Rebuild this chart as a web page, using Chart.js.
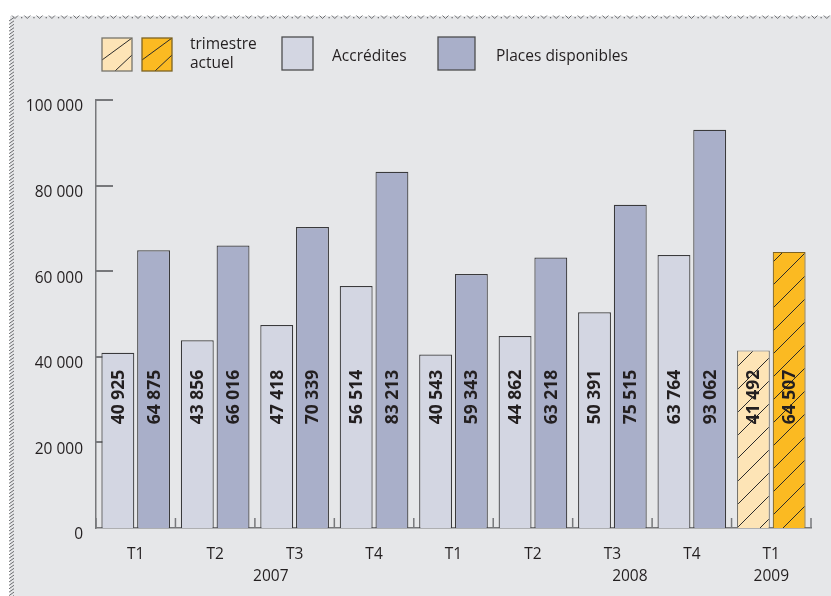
<!DOCTYPE html>
<html>
<head>
<meta charset="utf-8">
<script src="https://cdn.jsdelivr.net/npm/chart.js@4.4.0/dist/chart.umd.min.js"></script>
<style>
html,body{margin:0;padding:0;background:#fff;}
canvas{display:block;}
</style>
</head>
<body>
<canvas id="c" width="831" height="596"></canvas>
<script>
// ---- data ----
const quarters = ['T1','T2','T3','T4','T1','T2','T3','T4','T1'];
const years = ['2007','2008','2009'];
const yearAt = [1.7, 6.22, 8];          // category position (index) under which each year is written
const accredites = [40925, 43856, 47418, 56514, 40543, 44862, 50391, 63764, 41492];
const places     = [64875, 66016, 70339, 83213, 59343, 63218, 75515, 93062, 64507];
const yMax = 100000, yStep = 20000;
const labelValue = 30600;                // vertical level (in data units) where value labels are centred

// ---- style ----
const FONT = "'Open Sans', 'Noto Sans', sans-serif";
const BG = '#e6e7e9';
const C_ACC = '#d3d6e2', C_PL = '#a9afc9';
const C_CUR1 = '#fde4b6', C_CUR2 = '#fbba22';
const TXT = '#231f20';
const AXIS = '#77787b';

function fmt(v){ return String(v).replace(/\B(?=(\d{3})+(?!\d))/g, ' '); }

const canvas = document.getElementById('c');
const mainCtx = canvas.getContext('2d');

function makePattern(bg){
  const s = 23;
  const t = document.createElement('canvas');
  t.width = s; t.height = s;
  const g = t.getContext('2d');
  g.fillStyle = bg; g.fillRect(0,0,s,s);
  g.strokeStyle = '#2b2b2b'; g.lineWidth = 1;
  g.beginPath();
  g.moveTo(0,s); g.lineTo(s,0);
  g.moveTo(-2,2); g.lineTo(2,-2);
  g.moveTo(s-2,s+2); g.lineTo(s+2,s-2);
  g.stroke();
  return mainCtx.createPattern(t,'repeat');
}
const patLight = makePattern(C_CUR1);
const patOrange = makePattern(C_CUR2);

const n = quarters.length;
const accBg = accredites.map((v,i)=> i===n-1 ? patLight : C_ACC);
const plBg = places.map((v,i)=> i===n-1 ? patOrange : C_PL);
const accBd = accredites.map((v,i)=> i===n-1 ? '#77746c' : '#3a3a3c');
const plBd = places.map((v,i)=> i===n-1 ? '#7d6322' : '#3a3a3c');

function hatchBox(ctx, x, y, w, h, fill, stroke){
  ctx.save();
  ctx.fillStyle = fill; ctx.fillRect(x,y,w,h);
  ctx.beginPath(); ctx.rect(x,y,w,h); ctx.clip();
  ctx.strokeStyle = '#2b2b2b'; ctx.lineWidth = 1;
  ctx.beginPath();
  ctx.moveTo(x, y+22); ctx.lineTo(x+w, y);
  ctx.moveTo(x+13, y+h); ctx.lineTo(x+w, y+h-16);
  ctx.stroke();
  ctx.restore();
  ctx.strokeStyle = stroke; ctx.lineWidth = 1.3;
  ctx.strokeRect(x,y,w,h);
}
function plainBox(ctx, x, y, w, h, fill){
  ctx.fillStyle = fill; ctx.fillRect(x,y,w,h);
  ctx.strokeStyle = '#4d4d4f'; ctx.lineWidth = 1.3;
  ctx.strokeRect(x,y,w,h);
}

const decor = {
  id: 'decor',
  beforeDraw(chart){
    const ctx = chart.ctx;
    const W = chart.width, H = chart.height;
    ctx.save();
    ctx.fillStyle = '#fff'; ctx.fillRect(0,0,W,H);
    ctx.fillStyle = BG; ctx.fillRect(10,16,W-10,H-16);
    // top zigzag frame
    ctx.strokeStyle = '#6d6e71'; ctx.lineWidth = 1;
    ctx.beginPath();
    for(let x=12; x<W; x+=12.3){
      ctx.moveTo(x,15.5); ctx.lineTo(x+3,18.5); ctx.lineTo(x+6,15.5);
    }
    ctx.stroke();
    ctx.fillStyle = '#6d6e71';
    for(let x=21; x<W; x+=12.3){ ctx.fillRect(x,17,1.3,1.3); }
    // left hatched frame
    ctx.beginPath();
    for(let y=18; y<H; y+=3.4){
      ctx.moveTo(9, y+3); ctx.lineTo(14, y-0.5);
    }
    ctx.stroke();
    // legend
    hatchBox(ctx, 102, 38, 30, 33, C_CUR1, '#77746c');
    hatchBox(ctx, 142, 38, 30, 33, C_CUR2, '#7d6322');
    plainBox(ctx, 282, 37, 31, 33, C_ACC);
    plainBox(ctx, 438, 37, 37, 33, C_PL);
    ctx.fillStyle = TXT;
    ctx.font = '15.5px ' + FONT;
    ctx.textBaseline = 'middle'; ctx.textAlign = 'left';
    ctx.fillText('trimestre', 190, 45);
    ctx.fillText('actuel', 190, 64);
    ctx.fillText('Accrédites', 332, 57);
    ctx.fillText('Places disponibles', 496, 57);
    ctx.restore();
  },
  beforeDatasetsDraw(chart){
    const ctx = chart.ctx;
    const xs = chart.scales.x, ys = chart.scales.y;
    const ca = chart.chartArea;
    ctx.save();
    ctx.strokeStyle = AXIS;
    // inner y ticks
    ctx.lineWidth = 2;
    ctx.beginPath();
    for(let v=yStep; v<=yMax; v+=yStep){
      const py = Math.round(ys.getPixelForValue(v));
      ctx.moveTo(ca.left, py); ctx.lineTo(ca.left+17, py);
    }
    ctx.stroke();
    // category separators
    ctx.lineWidth = 1.5;
    ctx.beginPath();
    for(let i=0;i<=n;i++){
      let px;
      if(i<n){ px = (xs.getPixelForValue(i) + (i>0 ? xs.getPixelForValue(i-1) : 2*xs.getPixelForValue(0)-xs.getPixelForValue(1)))/2; }
      else { px = (xs.getPixelForValue(n-1)*3 - xs.getPixelForValue(n-2))/2; }
      ctx.moveTo(px, ca.bottom); ctx.lineTo(px, ca.bottom-10);
    }
    ctx.stroke();
    ctx.restore();
  },
  afterDatasetsDraw(chart){
    const ctx = chart.ctx;
    const xs = chart.scales.x, ys = chart.scales.y;
    ctx.save();
    ctx.fillStyle = TXT;
    ctx.font = 'bold 17.5px ' + FONT;
    ctx.textAlign = 'center'; ctx.textBaseline = 'middle';
    const ly = ys.getPixelForValue(labelValue);
    chart.data.datasets.forEach((ds, di)=>{
      const meta = chart.getDatasetMeta(di);
      meta.data.forEach((bar, i)=>{
        ctx.save();
        ctx.translate(bar.x + 1, ly);
        ctx.rotate(-Math.PI/2);
        ctx.fillText(fmt(ds.data[i]), 0, 0);
        ctx.restore();
      });
    });
    // year labels
    ctx.font = '15.5px ' + FONT;
    years.forEach((y, k)=>{
      const a = yearAt[k];
      const i0 = Math.floor(a), f = a - i0;
      const p0 = xs.getPixelForValue(i0);
      const p1 = xs.getPixelForValue(Math.min(i0+1, n-1));
      const px = p0 + (p1-p0)*f;
      ctx.fillText(y, px, ys.getPixelForValue(0) + 49);
    });
    ctx.restore();
  }
};

new Chart(canvas, {
  type: 'bar',
  data: {
    labels: quarters,
    datasets: [
      { label: 'Accrédites', data: accredites, backgroundColor: accBg, borderColor: accBd, borderWidth: 1.2,
        categoryPercentage: 0.9, barPercentage: 0.92 },
      { label: 'Places disponibles', data: places, backgroundColor: plBg, borderColor: plBd, borderWidth: 1.2,
        categoryPercentage: 0.9, barPercentage: 0.92 }
    ]
  },
  options: {
    responsive: false,
    devicePixelRatio: 1,
    animation: false,
    layout: { padding: { top: 100, right: 20, left: 0, bottom: 0 } },
    plugins: { legend: { display: false }, tooltip: { enabled: false } },
    scales: {
      x: {
        grid: { display: false, drawTicks: false },
        border: { display: true, color: AXIS, width: 1.5 },
        ticks: { color: TXT, font: { family: FONT, size: 15.5 }, padding: 17 },
        afterFit(s){ s.height = 596 - 528; }
      },
      y: {
        min: 0, max: yMax,
        grid: { display: false, drawTicks: false },
        border: { display: true, color: AXIS, width: 1.5 },
        ticks: { stepSize: yStep, color: TXT, font: { family: FONT, size: 15.5 }, padding: 13, labelOffset: 7,
                 callback: (v)=> fmt(v) },
        afterFit(s){ s.width = 96; }
      }
    }
  },
  plugins: [decor]
});
</script>
</body>
</html>
